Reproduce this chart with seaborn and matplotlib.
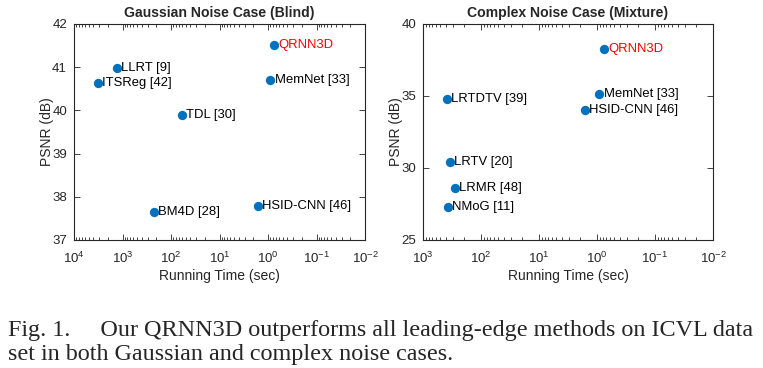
import pandas as pd
import matplotlib
matplotlib.use("Agg")
import matplotlib.pyplot as plt
import matplotlib.ticker as mticker
import seaborn as sns

# Gaussian noise case (blind)
g_methods = ['QRNN3D', 'LLRT [9]', 'ITSReg [42]', 'MemNet [33]', 'TDL [30]', 'BM4D [28]', 'HSID-CNN [46]']
g_time = [0.76, 1290, 3240, 0.89, 60, 224, 1.63]
g_psnr = [41.52, 40.97, 40.63, 40.70, 39.90, 37.65, 37.79]

# Complex noise case (mixture)
c_methods = ['QRNN3D', 'MemNet [33]', 'HSID-CNN [46]', 'LRTDTV [39]', 'LRTV [20]', 'LRMR [48]', 'NMoG [11]']
c_time = [0.76, 0.91, 1.62, 385, 338, 284, 370]
c_psnr = [38.24, 35.14, 34.03, 34.77, 30.39, 28.59, 27.27]

caption1 = "Fig. 1.     Our QRNN3D outperforms all leading-edge methods on ICVL data"
caption2 = "set in both Gaussian and complex noise cases."

sns.set_style("ticks")
plt.rcParams['font.family'] = ['Liberation Sans', 'DejaVu Sans']
plt.rcParams['mathtext.fontset'] = 'custom'
plt.rcParams['mathtext.rm'] = 'Liberation Sans'
plt.rcParams['mathtext.it'] = 'Liberation Sans'

blue = '#0072BD'
dark = '#262626'

fig = plt.figure(figsize=(7.63, 3.68), dpi=100)
ax1 = fig.add_axes([74 / 763, 1 - 240 / 368, 291 / 763, 216 / 368])
ax2 = fig.add_axes([423 / 763, 1 - 240 / 368, 290 / 763, 216 / 368])


def draw(ax, methods, times, psnr, xlim, ylim, yticks, title):
    df = pd.DataFrame({'method': methods, 'time': times, 'psnr': psnr})
    sns.scatterplot(data=df, x='time', y='psnr', ax=ax, color=blue, s=45,
                    edgecolor=blue, linewidth=0, zorder=3)
    ax.set_xscale('log')
    ax.set_xlim(*xlim)
    ax.set_ylim(*ylim)
    ax.set_yticks(yticks)
    ax.xaxis.set_major_locator(mticker.LogLocator(base=10, numticks=10))
    ax.xaxis.set_minor_locator(mticker.LogLocator(base=10, subs=range(2, 10), numticks=20))
    ax.xaxis.set_minor_formatter(mticker.NullFormatter())
    ax.tick_params(which='both', direction='in', top=True, right=True,
                   colors=dark, labelsize=9.5, width=0.6)
    ax.tick_params(which='major', length=4)
    ax.tick_params(which='minor', length=2)
    ax.tick_params(axis='x', which='major', pad=8)
    ax.tick_params(axis='y', which='major', pad=5)
    ax.tick_params(axis='y', which='minor', left=False, right=False)
    for sp in ax.spines.values():
        sp.set_visible(True)
        sp.set_color(dark)
        sp.set_linewidth(0.8)
    for m, t, p in zip(methods, times, psnr):
        col = 'red' if m == 'QRNN3D' else 'black'
        ax.annotate(m, (t, p), xytext=(3, 0), textcoords='offset points',
                    ha='left', va='center', fontsize=9.4, color=col)
    ax.set_xlabel('Running Time (sec)', fontsize=10, color=dark, labelpad=2)
    ax.set_ylabel('PSNR (dB)', fontsize=10, color=dark, labelpad=-1)
    ax.set_title(title, fontsize=10.1, fontweight='bold', pad=5)


draw(ax1, g_methods, g_time, g_psnr, (1e4, 1e-2), (37, 42), [37, 38, 39, 40, 41, 42],
     'Gaussian Noise Case (Blind)')
draw(ax2, c_methods, c_time, c_psnr, (1e3, 1e-2), (25, 40), [25, 30, 35, 40],
     'Complex Noise Case (Mixture)')

fig.text(8 / 763, 1 - 336 / 368, caption1, fontsize=17.4, family='Liberation Serif',
         ha='left', va='baseline')
fig.text(8 / 763, 1 - 360 / 368, caption2, fontsize=17.4, family='Liberation Serif',
         ha='left', va='baseline')

fig.savefig('out.png', dpi=100, facecolor='white')
